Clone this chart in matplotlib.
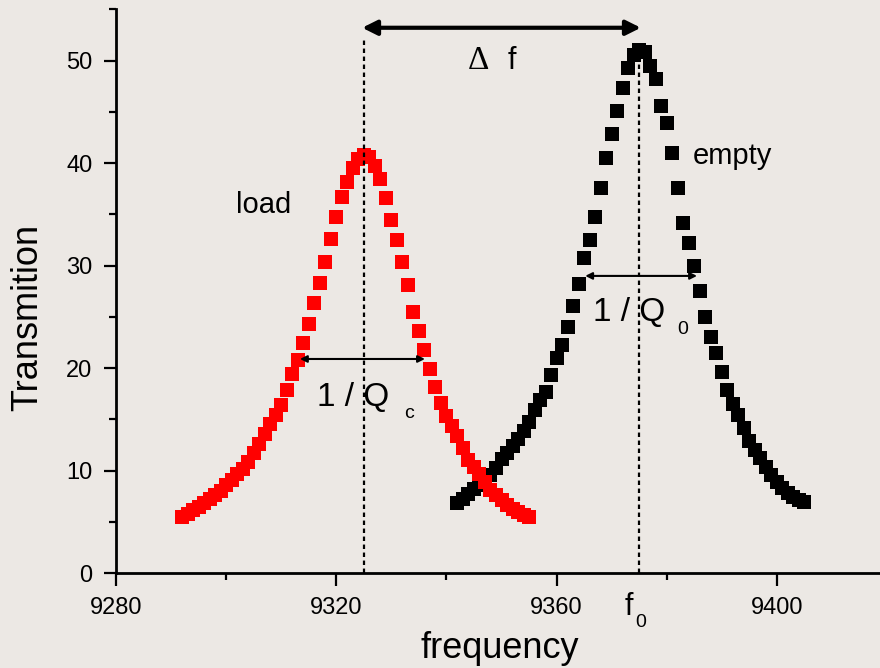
import matplotlib
matplotlib.use('Agg')
import matplotlib.pyplot as plt

plt.rcParams['font.family'] = ['Liberation Sans', 'DejaVu Sans']

load_f = list(range(9292, 9356))
load_t = [5.5, 5.8, 6.2, 6.5, 6.9, 7.2, 7.6, 8.0, 8.6, 9.1,
          9.7, 10.2, 10.9, 11.7, 12.6, 13.6, 14.6, 15.4, 16.4, 17.9,
          19.4, 20.8, 22.5, 24.3, 26.4, 28.3, 30.4, 32.6, 34.7, 36.7,
          38.2, 39.5, 40.4, 40.8, 40.6, 39.7, 38.5, 36.6, 34.5, 32.5,
          30.4, 28.1, 25.5, 23.6, 21.8, 19.9, 18.2, 16.6, 15.3, 14.4,
          13.4, 12.2, 11.0, 10.4, 9.7, 8.9, 8.1, 7.6, 7.1, 6.7,
          6.3, 6.0, 5.7, 5.5]

empty_f = list(range(9342, 9406))
empty_t = [6.9, 7.2, 7.7, 8.2, 8.6, 9.1, 9.6, 10.3, 11.1, 11.7,
           12.4, 13.1, 13.9, 14.8, 15.9, 16.9, 17.7, 19.3, 21.0, 22.3,
           24.0, 26.1, 28.2, 30.7, 32.5, 34.7, 37.6, 40.5, 42.8, 45.1,
           47.3, 49.3, 50.5, 51.0, 50.8, 49.5, 48.2, 45.6, 43.9, 41.0,
           37.6, 34.2, 32.2, 30.0, 27.5, 25.0, 23.0, 21.5, 19.6, 17.9,
           16.5, 15.4, 14.2, 12.9, 12.0, 11.2, 10.4, 9.6, 8.9, 8.3,
           7.8, 7.4, 7.1, 7.0]

fc = 9325.0   # loaded resonance
f0 = 9375.0   # empty resonance
xticks = [9280, 9320, 9360, 9400]
xminor = [9300, 9340, 9380]
yticks = [0, 10, 20, 30, 40, 50]
yminor = [5, 15, 25, 35, 45, 55]

bg = '#ece8e4'
fig = plt.figure(figsize=(8.8, 6.68), dpi=100, facecolor=bg)
ax = fig.add_axes([116/880., 1-573.3/668., 771/880., 564/668.])
ax.set_facecolor(bg)

ax.plot(empty_f, empty_t, 's', color='k', ms=9.5, mew=0, zorder=3)
ax.plot(load_f, load_t, 's', color='#ff0000', ms=9.5, mew=0, zorder=4)

ax.plot([fc, fc], [0, 52.2], color='k', lw=1.6, ls=(0, (2, 1.6)), zorder=5)
ax.plot([f0, f0], [0, 51.0], color='k', lw=1.6, ls=(0, (2, 1.6)), zorder=5)

ax.annotate('', xy=(f0 + 0.3, 53.2), xytext=(fc - 0.3, 53.2),
            arrowprops=dict(arrowstyle='<|-|>', lw=3, color='k',
                            mutation_scale=22, shrinkA=0, shrinkB=0),
            zorder=6, annotation_clip=False)
ax.annotate('', xy=(9336.1, 20.9), xytext=(9313.4, 20.9),
            arrowprops=dict(arrowstyle='<|-|>', lw=1.5, color='k',
                            mutation_scale=10, shrinkA=0, shrinkB=0),
            zorder=6)
ax.annotate('', xy=(9385.5, 29.0), xytext=(9365.2, 29.0),
            arrowprops=dict(arrowstyle='<|-|>', lw=1.5, color='k',
                            mutation_scale=10, shrinkA=0, shrinkB=0),
            zorder=6)

ax.text(9301.8, 35.1, 'load', fontsize=21, ha='left', va='baseline')
ax.text(9384.8, 39.9, 'empty', fontsize=21, ha='left', va='baseline')
ax.text(9343.8, 49.2, '\u0394', fontsize=24, ha='left', va='baseline',
        family=['Liberation Serif', 'DejaVu Serif'])
ax.text(9351.2, 49.2, 'f', fontsize=22, ha='left', va='baseline')
ax.text(9316.5, 16.3, '1 / Q', fontsize=24, ha='left', va='baseline')
ax.text(9332.3, 15.1, 'c', fontsize=14, ha='left', va='baseline')
ax.text(9366.6, 24.6, '1 / Q', fontsize=24, ha='left', va='baseline')
ax.text(9382.0, 23.3, '0', fontsize=14, ha='left', va='baseline')
ax.text(9372.4, -4.05, 'f', fontsize=22, ha='left', va='baseline', clip_on=False)
ax.text(9374.2, -5.2, '0', fontsize=14, ha='left', va='baseline', clip_on=False)

ax.set_xlim(9280, 9420)
ax.set_ylim(0, 55)
ax.set_xticks(xticks)
ax.set_xticks(xminor, minor=True)
ax.set_yticks(yticks)
ax.set_yticks(yminor, minor=True)
ax.tick_params(which='major', length=9, width=1.6, labelsize=17, pad=8)
ax.tick_params(which='minor', length=5, width=1.6)
for s in ['top', 'right']:
    ax.spines[s].set_visible(False)
for s in ['left', 'bottom']:
    ax.spines[s].set_linewidth(2)

ax.text(-0.115, 0.454, 'Transmition', fontsize=26, rotation=90,
        ha='center', va='center', transform=ax.transAxes)
ax.text(384/771., -0.133, 'frequency', fontsize=26, ha='center', va='center',
        transform=ax.transAxes)

fig.savefig('out.png', dpi=100, facecolor=bg)
